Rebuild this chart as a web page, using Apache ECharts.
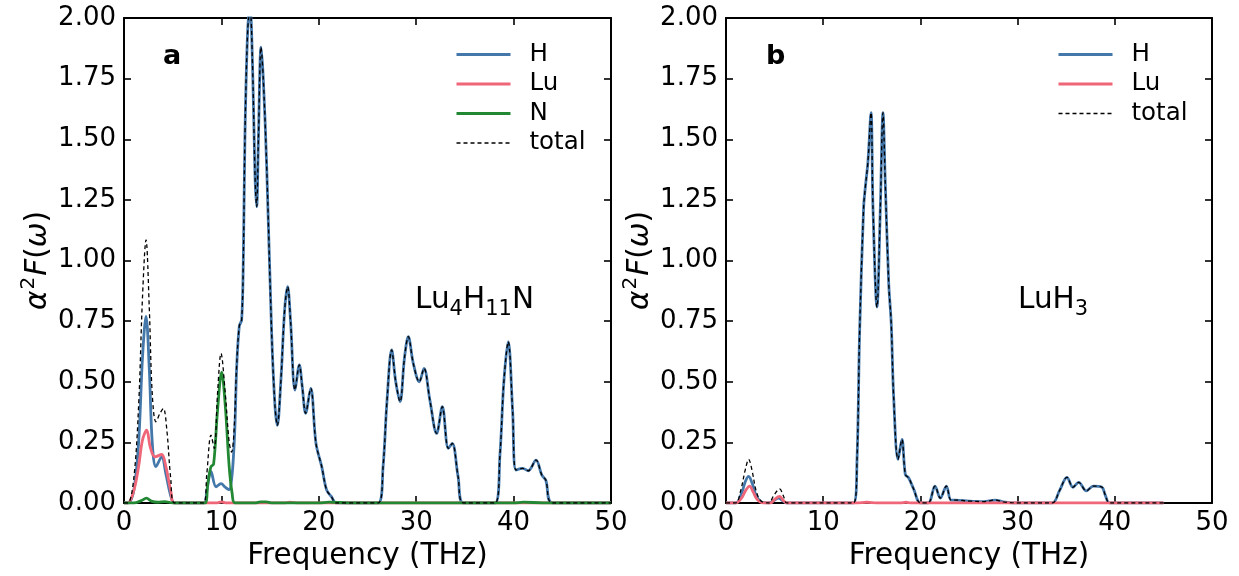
<!DOCTYPE html>
<html>
<head>
<meta charset="utf-8">
<script src="https://cdn.jsdelivr.net/npm/echarts@6/dist/echarts.min.js"></script>
<style>
html,body{margin:0;padding:0;background:#fff;}
#chart{width:1239px;height:576px;}
</style>
</head>
<body>
<div id="chart"></div>
<script>
// ---------- Data (frequency THz, alpha^2F) ----------
var xTicks = [0, 10, 20, 30, 40, 50];
var yTicks = ['0.00','0.25','0.50','0.75','1.00','1.25','1.50','1.75','2.00'];

// Panel a : Lu4H11N
var H_a = [[0,0],[0.4,0],[1.0,0.05],[1.5,0.25],[1.9,0.6],[2.26,0.77],[2.6,0.55],[2.9,0.25],[3.28,0.15],[3.87,0.19],[4.3,0.12],[4.8,0.03],[5.2,0],
  [8.2,0],[8.5,0.05],[8.93,0.13],[9.45,0.067],[9.96,0.08],[10.4,0.065],[10.8,0.055],[11.05,0.1],[11.25,0.2],[11.4,0.33],[11.57,0.56],[11.84,0.73],[12.08,0.755],
  [12.25,1.0],[12.42,1.52],[12.7,1.95],[12.94,2.04],[13.2,1.8],[13.45,1.35],[13.62,1.222],[13.8,1.5],[14.07,1.88],[14.3,1.75],[14.65,1.387],[15.16,0.70],[15.5,0.4],[15.74,0.32],
  [16.1,0.5],[16.5,0.8],[16.8,0.892],[17.1,0.75],[17.56,0.466],[18.0,0.569],[18.3,0.48],[18.65,0.37],[19.17,0.473],[19.71,0.246],[20.3,0.15],[20.8,0.054],[21.3,0.026],[21.8,0],
  [26.1,0],[26.6,0.15],[27.0,0.42],[27.48,0.631],[27.9,0.5],[28.34,0.418],[28.8,0.6],[29.19,0.686],[29.7,0.576],[30.32,0.50],[30.8,0.555],[31.4,0.425],[32.1,0.287],[32.68,0.397],[33.3,0.225],[33.7,0.246],[34.3,0.109],[34.84,0],
  [38.1,0],[38.6,0.2],[39.0,0.5],[39.45,0.665],[39.9,0.38],[40.25,0.136],[40.93,0.143],[41.5,0.133],[42.3,0.177],[42.9,0.115],[43.3,0.095],[44.0,0],[50,0]];
var Lu_a = [[0,0],[0.4,0],[1.0,0.05],[1.5,0.15],[1.9,0.26],[2.33,0.30],[2.7,0.23],[3.18,0.19],[3.87,0.20],[4.3,0.15],[4.8,0.05],[5.2,0],
  [9.5,0],[10.0,0.005],[10.5,0],[16.5,0],[17,0.004],[18,0],[50,0]];
var N_a = [[0,0],[1.0,0],[1.8,0.01],[2.3,0.02],[2.8,0.008],[3.5,0.003],[4.2,0.006],[5.0,0],
  [8.3,0],[8.6,0.08],[8.93,0.15],[9.2,0.16],[9.6,0.38],[10.03,0.54],[10.4,0.4],[10.8,0.15],[11.1,0.04],[11.4,0],
  [13.5,0],[14,0.005],[14.6,0.005],[15.2,0],[20,0],[21,0.004],[23,0],[40,0],[41,0.004],[43,0],[50,0]];
var total_a = [[0,0],[0.4,0],[1.0,0.1],[1.5,0.4],[1.9,0.85],[2.26,1.085],[2.6,0.8],[2.9,0.45],[3.28,0.335],[3.7,0.37],[4.04,0.39],[4.4,0.3],[4.8,0.1],[5.2,0],
  [8.15,0],[8.5,0.12],[8.93,0.28],[9.27,0.225],[9.6,0.45],[9.96,0.617],[10.4,0.45],[10.8,0.25],[11.05,0.21],[11.3,0.3],[11.57,0.57],[11.84,0.73],[12.08,0.755],
  [12.25,1.0],[12.42,1.52],[12.7,1.95],[12.94,2.04],[13.2,1.8],[13.45,1.35],[13.62,1.222],[13.8,1.5],[14.07,1.88],[14.3,1.75],[14.65,1.387],[15.16,0.70],[15.5,0.4],[15.74,0.32],
  [16.1,0.5],[16.5,0.8],[16.8,0.892],[17.1,0.75],[17.56,0.466],[18.0,0.569],[18.3,0.48],[18.65,0.37],[19.17,0.473],[19.71,0.246],[20.3,0.15],[20.8,0.054],[21.3,0.026],[21.8,0],
  [26.1,0],[26.6,0.15],[27.0,0.42],[27.48,0.631],[27.9,0.5],[28.34,0.418],[28.8,0.6],[29.19,0.686],[29.7,0.576],[30.32,0.50],[30.8,0.555],[31.4,0.425],[32.1,0.287],[32.68,0.397],[33.3,0.225],[33.7,0.246],[34.3,0.109],[34.84,0],
  [38.1,0],[38.6,0.2],[39.0,0.5],[39.45,0.665],[39.9,0.38],[40.25,0.136],[40.93,0.143],[41.5,0.133],[42.3,0.177],[42.9,0.115],[43.3,0.095],[44.0,0],[50,0]];

// Panel b : LuH3
var H_b = [[0,0],[1.0,0],[1.6,0.04],[2.0,0.09],[2.33,0.11],[2.7,0.08],[3.1,0.03],[3.6,0.005],[4.4,0],[4.9,0.01],[5.42,0.02],[5.8,0.01],[6.2,0],
  [13.13,0],[13.48,0.18],[13.75,0.71],[14.16,1.22],[14.33,1.30],[14.6,1.406],[14.92,1.61],[15.12,1.22],[15.53,0.808],[15.88,1.22],[16.15,1.61],[16.39,1.315],[16.74,0.906],[17.0,0.74],[17.25,0.436],
  [17.7,0.18],[18.1,0.262],[18.45,0.118],[18.8,0.103],[19.3,0.058],[20.0,0],[20.8,0],[21.5,0.07],[22.05,0.02],[22.67,0.07],[23.15,0.012],[23.6,0.012],[25,0.008],[26.5,0.006],[27.7,0.012],[28.5,0.005],[30,0],
  [33.54,0],[34.3,0.05],[35.08,0.106],[35.7,0.065],[36.28,0.085],[37.07,0.05],[37.8,0.07],[38.68,0.065],[39.0,0.035],[39.5,0],[45,0]];
var Lu_b = [[0,0],[1.0,0],[1.6,0.02],[2.0,0.05],[2.43,0.07],[2.8,0.045],[3.2,0.015],[3.8,0],[4.6,0],[5.0,0.015],[5.52,0.027],[5.9,0.01],[6.3,0],
  [13.5,0],[14.5,0.003],[15.5,0],[18,0],[18.5,0.003],[19,0],[45,0]];
var total_b = [[0,0],[1.0,0],[1.5,0.05],[2.0,0.14],[2.33,0.18],[2.7,0.13],[3.1,0.05],[3.6,0.008],[4.4,0],[4.9,0.03],[5.52,0.058],[5.9,0.03],[6.3,0],
  [13.13,0],[13.48,0.18],[13.75,0.71],[14.16,1.22],[14.33,1.30],[14.6,1.406],[14.92,1.61],[15.12,1.22],[15.53,0.808],[15.88,1.22],[16.15,1.61],[16.39,1.315],[16.74,0.906],[17.0,0.74],[17.25,0.436],
  [17.7,0.18],[18.1,0.262],[18.45,0.118],[18.8,0.103],[19.3,0.058],[20.0,0],[20.8,0],[21.5,0.07],[22.05,0.02],[22.67,0.07],[23.15,0.012],[23.6,0.012],[25,0.008],[26.5,0.006],[27.7,0.012],[28.5,0.005],[30,0],
  [33.54,0],[34.3,0.05],[35.08,0.106],[35.7,0.065],[36.28,0.085],[37.07,0.05],[37.8,0.07],[38.68,0.065],[39.0,0.035],[39.5,0],[45,0]];

// ---------- Styling ----------
var FONT = 'DejaVu Sans';
var C_H = '#4477AA', C_LU = '#EE6677', C_N = '#228833';
var TICK_FS = 26, NAME_FS = 29.5;

function xAx(gi, pos){
  return {
    type:'value', gridIndex:gi, position:pos, min:0, max:50, interval:10,
    axisLine:{show:true, onZero:false, lineStyle:{color:'#000', width:2}},
    axisTick:{show:true, inside:true, length:7, lineStyle:{color:'#000', width:1.6}},
    axisLabel:{show:pos==='bottom', color:'#000', fontFamily:FONT, fontSize:TICK_FS, margin:7,
      formatter:function(v){ return xTicks.indexOf(v)>=0 ? String(v) : ''; }},
    splitLine:{show:false},
    name: pos==='bottom' ? 'Frequency (THz)' : '',
    nameLocation:'middle', nameGap:36,
    nameTextStyle:{color:'#000', fontFamily:FONT, fontSize:NAME_FS}
  };
}
function yAx(gi, pos){
  return {
    type:'value', gridIndex:gi, position:pos, min:0, max:2, interval:0.25,
    axisLine:{show:true, onZero:false, lineStyle:{color:'#000', width:2}},
    axisTick:{show:true, inside:true, length:7, lineStyle:{color:'#000', width:1.6}},
    axisLabel:{show:pos==='left', color:'#000', fontFamily:FONT, fontSize:TICK_FS, margin:8,
      formatter:function(v){ return yTicks[Math.round(v/0.25)]; }},
    splitLine:{show:false},
    name: pos==='left' ? '{i|α}{s|2}{i|F}{n|(}{i|ω}{n|)}' : '',
    nameLocation:'middle', nameGap:71,
    nameTextStyle:{color:'#000', fontFamily:FONT, fontSize:NAME_FS,
      rich:{
        i:{fontFamily:FONT, fontSize:NAME_FS, fontStyle:'italic', color:'#000', verticalAlign:'bottom'},
        n:{fontFamily:FONT, fontSize:NAME_FS, color:'#000', verticalAlign:'bottom'},
        s:{fontFamily:FONT, fontSize:20, color:'#000', verticalAlign:'bottom', padding:[0,1,14,1]}
      }}
  };
}
function ln(name, data, color, xi, yi, width, dashed){
  return {
    name:name, type:'line', xAxisIndex:xi, yAxisIndex:yi, data:data,
    smooth:0.35, symbol:'none', showSymbol:false, clip:true, animation:false,
    lineStyle:{color:color, width:width, type: dashed ? [4,3] : 'solid'},
    itemStyle:{color:color}
  };
}
function legendItem(name){
  var solid = name !== 'total';
  return {name:name, lineStyle:{width: solid ? 3 : 1.3}};
}
function legendAt(left, names){
  return {
    orient:'vertical', left:left, top:42, padding:0, itemWidth:54, itemHeight:14, itemGap:4.5,
    data:names.map(legendItem),
    itemStyle:{opacity:0},
    textStyle:{fontFamily:FONT, fontSize:24.5, color:'#000', padding:[0,0,0,14], lineHeight:23.5},
    selectedMode:false
  };
}
function subText(x, y, tokens){
  return {type:'text', left:x, top:y, z:100,
    style:{text:tokens, fontFamily:FONT, fill:'#000',
      rich:{
        m:{fontFamily:FONT, fontSize:29.5, fill:'#000', verticalAlign:'top', lineHeight:29},
        b:{fontFamily:FONT, fontSize:21, fill:'#000', verticalAlign:'bottom', padding:[14,0,0,0]}
      }}};
}

var chart = echarts.init(document.getElementById('chart'), null, {renderer:'canvas'});
chart.setOption({
  backgroundColor:'#fff',
  animation:false,
  grid:[
    {left:124, top:18, width:487, height:485},
    {left:726, top:18, width:486, height:485}
  ],
  xAxis:[xAx(0,'bottom'), xAx(0,'top'), xAx(1,'bottom'), xAx(1,'top')],
  yAxis:[yAx(0,'left'), yAx(0,'right'), yAx(1,'left'), yAx(1,'right')],
  legend:[legendAt(455, ['H','Lu','N','total']), legendAt(1057, ['H','Lu','total'])],
  series:[
    ln('H', H_a, C_H, 0, 0, 2.8, false),
    ln('Lu', Lu_a, C_LU, 0, 0, 2.8, false),
    ln('N', N_a, C_N, 0, 0, 2.8, false),
    ln('total', total_a, '#000', 0, 0, 1.3, true),
    ln('H', H_b, C_H, 2, 2, 2.8, false),
    ln('Lu', Lu_b, C_LU, 2, 2, 2.8, false),
    ln('total', total_b, '#000', 2, 2, 1.3, true)
  ],
  graphic:[
    {type:'text', left:163, top:43, z:100, style:{text:'a', fontFamily:FONT, fontSize:27, fontWeight:'bold', fill:'#000'}},
    {type:'text', left:766, top:43, z:100, style:{text:'b', fontFamily:FONT, fontSize:27, fontWeight:'bold', fill:'#000'}},
    subText(415, 285, '{m|Lu}{b|4}{m|H}{b|11}{m|N}'),
    subText(1018, 285, '{m|LuH}{b|3}')
  ]
});
</script>
</body>
</html>
